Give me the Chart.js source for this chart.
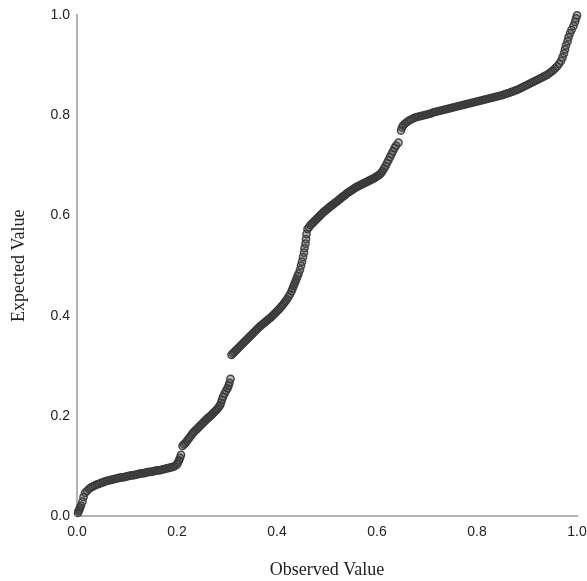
<!DOCTYPE html>
<html>
<head>
<meta charset="utf-8">
<title>P-P Plot</title>
<script src="https://cdn.jsdelivr.net/npm/chart.js@4/dist/chart.umd.min.js"></script>
<style>
  html, body { margin: 0; padding: 0; background: #ffffff; }
  #wrap { width: 587px; height: 581px; }
</style>
</head>
<body>
<div id="wrap"><canvas id="pp" width="587" height="581"></canvas></div>
<script>
// Observed cumulative proportion (x) and expected cumulative proportion (y)
const observed = [
  0.002,0.003,0.005,0.006,0.008,0.011,0.013,0.016,
  0.020,0.024,0.028,0.032,0.036,0.040,0.044,0.048,0.052,0.056,0.060,0.064,0.068,0.072,0.076,0.080,
  0.084,0.088,0.092,0.096,0.100,0.104,0.108,0.112,0.116,0.120,0.124,0.128,0.132,0.136,0.140,0.144,
  0.148,0.152,0.156,0.160,0.164,0.168,0.172,0.176,0.180,0.184,0.188,0.192,0.196,0.200,
  0.202,0.204,0.206,0.208,
  0.211,0.214,0.217,0.220,0.223,0.226,0.229,0.232,0.235,0.238,0.241,0.244,0.247,0.250,0.253,0.256,
  0.259,0.262,0.265,0.268,0.271,0.274,0.277,0.280,0.283,0.286,
  0.288,0.290,0.292,0.295,0.298,0.301,0.303,0.305,0.307,
  0.309,0.312,0.315,0.318,0.321,0.324,0.327,0.330,0.333,0.336,0.339,0.342,0.345,0.348,0.351,0.354,
  0.357,0.360,0.363,0.366,0.369,0.372,0.375,0.378,0.381,0.384,0.387,0.390,0.393,0.396,0.399,0.402,
  0.405,0.408,0.411,0.414,0.417,0.420,0.423,0.426,0.429,0.431,0.433,0.435,0.437,0.439,0.441,0.443,
  0.446,0.448,0.450,0.452,0.454,0.455,0.457,0.458,0.459,
  0.461,0.464,0.467,0.470,0.473,0.476,0.479,0.482,0.485,0.488,0.491,0.494,0.497,0.500,0.503,0.506,
  0.509,0.512,0.515,0.518,0.521,0.524,0.527,0.530,0.533,0.536,0.539,0.542,0.545,0.548,0.551,0.554,
  0.557,0.560,0.563,0.566,0.569,0.572,0.575,0.578,0.581,0.584,0.587,0.590,0.593,0.596,0.599,0.602,
  0.605,0.608,0.611,0.614,0.617,0.620,
  0.623,0.626,0.629,0.632,0.635,0.638,0.643,
  0.648,0.650,
  0.652,0.656,0.660,0.664,0.668,0.672,0.676,0.680,0.684,0.688,0.692,0.696,0.700,0.704,0.708,0.712,
  0.716,0.720,0.724,0.728,0.732,0.736,0.740,0.744,0.748,0.752,0.756,0.760,0.764,0.768,0.772,0.776,
  0.780,0.784,0.788,0.792,0.796,0.800,0.804,0.808,0.812,0.816,0.820,0.824,0.828,0.832,0.836,0.840,
  0.844,0.848,0.852,0.856,0.860,0.864,0.868,0.872,0.876,0.880,0.884,0.888,0.892,0.896,0.900,0.904,
  0.908,0.912,0.916,0.920,0.924,0.928,0.932,0.936,0.940,0.944,0.948,0.952,0.956,0.960,0.964,0.968,
  0.971,0.974,0.976,0.978,0.981,0.983,0.986,0.989,0.993,0.996,0.998,1.000
];

const expected = [
  0.006,0.010,0.013,0.017,0.021,0.029,0.038,0.046,
  0.050,0.054,0.057,0.059,0.061,0.063,0.064,0.066,0.067,0.069,0.070,0.071,0.072,0.073,0.074,0.075,
  0.076,0.077,0.077,0.078,0.079,0.080,0.081,0.081,0.082,0.083,0.084,0.085,0.085,0.086,0.087,0.088,
  0.088,0.089,0.090,0.091,0.091,0.092,0.093,0.094,0.095,0.096,0.097,0.098,0.100,0.103,
  0.107,0.111,0.116,0.122,
  0.140,0.143,0.146,0.150,0.154,0.158,0.162,0.166,0.169,0.172,0.175,0.178,0.181,0.184,0.187,0.190,
  0.193,0.196,0.198,0.201,0.204,0.207,0.210,0.213,0.217,0.221,
  0.226,0.232,0.238,0.244,0.250,0.255,0.260,0.266,0.274,
  0.322,0.325,0.328,0.331,0.334,0.337,0.340,0.343,0.346,0.349,0.352,0.355,0.358,0.361,0.364,0.367,
  0.370,0.373,0.376,0.379,0.381,0.384,0.386,0.389,0.391,0.394,0.396,0.399,0.402,0.405,0.408,0.411,
  0.414,0.418,0.421,0.425,0.429,0.433,0.438,0.443,0.449,0.454,0.459,0.464,0.469,0.474,0.479,0.484,
  0.492,0.500,0.508,0.517,0.526,0.535,0.544,0.553,0.563,
  0.573,0.577,0.581,0.584,0.587,0.590,0.593,0.596,0.599,0.602,0.605,0.608,0.610,0.613,0.615,0.618,
  0.620,0.622,0.625,0.627,0.629,0.632,0.634,0.637,0.639,0.641,0.644,0.646,0.648,0.650,0.652,0.654,
  0.656,0.658,0.659,0.661,0.662,0.664,0.665,0.667,0.668,0.670,0.671,0.673,0.674,0.676,0.678,0.680,
  0.682,0.685,0.689,0.694,0.699,0.705,
  0.711,0.717,0.723,0.729,0.735,0.740,0.746,
  0.770,0.776,
  0.780,0.784,0.787,0.790,0.792,0.794,0.796,0.797,0.798,0.799,0.800,0.801,0.802,0.803,0.804,0.806,
  0.807,0.808,0.809,0.810,0.811,0.812,0.813,0.814,0.815,0.816,0.817,0.818,0.819,0.820,0.821,0.822,
  0.823,0.824,0.825,0.826,0.827,0.828,0.829,0.830,0.831,0.832,0.833,0.834,0.835,0.836,0.837,0.838,
  0.839,0.840,0.841,0.843,0.844,0.845,0.847,0.848,0.850,0.851,0.853,0.855,0.857,0.859,0.861,0.863,
  0.865,0.867,0.869,0.871,0.873,0.875,0.877,0.879,0.881,0.884,0.887,0.890,0.894,0.898,0.903,0.909,
  0.916,0.924,0.932,0.940,0.948,0.956,0.964,0.971,0.979,0.987,0.994,1.000
];

const axisTicks = [0.0, 0.2, 0.4, 0.6, 0.8, 1.0];
const xTitle = 'Observed Value';
const yTitle = 'Expected Value';

const points = observed.map((x, i) => ({ x: x, y: expected[i] }));

const tickFont = { family: '"Liberation Sans", Arial, sans-serif', size: 14 };
const titleFont = { family: '"Liberation Serif", "Times New Roman", serif', size: 18 };

new Chart(document.getElementById('pp'), {
  type: 'scatter',
  data: {
    datasets: [{
      data: points,
      pointStyle: 'circle',
      pointRadius: 3.6,
      pointHoverRadius: 3.6,
      pointBorderWidth: 1.5,
      borderColor: 'rgba(58,58,58,0.92)',
      backgroundColor: 'rgba(60,60,60,0.34)',
      clip: false
    }]
  },
  options: {
    responsive: false,
    animation: false,
    events: [],
    layout: { padding: { top: 14, right: 0, bottom: 0, left: 0 } },
    plugins: { legend: { display: false }, tooltip: { enabled: false } },
    scales: {
      x: {
        type: 'linear',
        min: 0, max: 1,
        afterBuildTicks: s => { s.ticks = axisTicks.map(v => ({ value: v })); },
        afterFit: s => { s.height = 65; s.paddingRight = 10; s.paddingLeft = 10; },
        grid: { display: false, drawTicks: false },
        border: { display: true, color: '#b2b2b2', width: 2 },
        ticks: {
          padding: 8,
          color: '#222222',
          font: tickFont,
          maxRotation: 0,
          autoSkip: false,
          callback: v => Number(v).toFixed(1)
        },
        title: {
          display: true,
          text: xTitle,
          color: '#222222',
          font: titleFont,
          padding: { top: 0, bottom: 0 }
        }
      },
      y: {
        type: 'linear',
        min: 0, max: 1,
        afterBuildTicks: s => { s.ticks = axisTicks.map(v => ({ value: v })); },
        afterFit: s => { s.width = 77; },
        grid: { display: false, drawTicks: false },
        border: { display: true, color: '#b2b2b2', width: 2 },
        ticks: {
          padding: 7,
          color: '#222222',
          font: tickFont,
          autoSkip: false,
          callback: v => Number(v).toFixed(1)
        },
        title: {
          display: true,
          text: yTitle,
          color: '#222222',
          font: titleFont,
          padding: { top: 8, bottom: 0 }
        }
      }
    }
  }
});
</script>
</body>
</html>
